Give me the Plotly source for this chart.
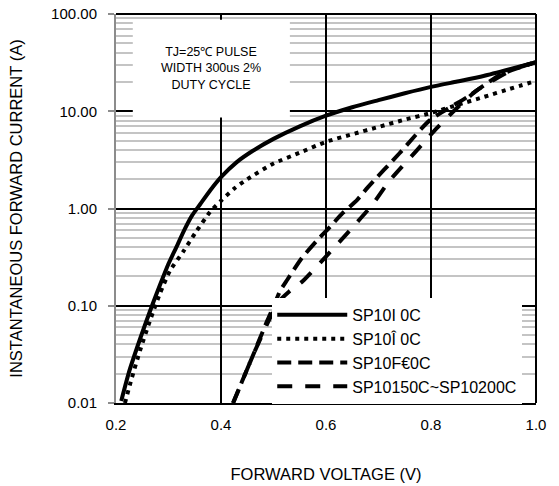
import plotly.graph_objects as go

# ---- data ----
v_a = [0.21, 0.225, 0.24, 0.255, 0.27, 0.285, 0.30, 0.315, 0.33, 0.345, 0.36, 0.38, 0.40,
       0.43, 0.46, 0.50, 0.55, 0.60, 0.65, 0.70, 0.75, 0.80, 0.85, 0.90, 0.95, 1.00]
i_a = [0.0105, 0.021, 0.037, 0.063, 0.105, 0.17, 0.27, 0.40, 0.60, 0.85, 1.1, 1.55, 2.1,
       3.0, 3.9, 5.2, 7.0, 9.0, 11.0, 13.0, 15.3, 17.8, 20.2, 23.0, 27.0, 32.0]

v_b = [0.217, 0.23, 0.246, 0.265, 0.284, 0.303, 0.328, 0.351, 0.379, 0.40, 0.425, 0.45,
       0.50, 0.55, 0.60, 0.65, 0.70, 0.75, 0.80, 0.85, 0.90, 0.95, 1.00]
i_b = [0.01, 0.018, 0.035, 0.071, 0.135, 0.23, 0.36, 0.56, 0.92, 1.2, 1.6, 2.0,
       2.9, 3.75, 4.85, 5.8, 6.9, 8.2, 9.6, 11.6, 14.0, 17.0, 20.5]

v_c = [0.423, 0.44, 0.461, 0.488, 0.499, 0.512, 0.526, 0.554, 0.583, 0.608, 0.632, 0.659,
       0.68, 0.74, 0.798, 0.869, 0.931, 1.0]
i_c = [0.01, 0.0166, 0.031, 0.07, 0.095, 0.14, 0.184, 0.31, 0.47, 0.65, 0.9, 1.22,
       1.66, 3.7, 8.1, 14.0, 23.6, 32.0]

v_d = [0.423, 0.44, 0.461, 0.488, 0.51, 0.53, 0.556, 0.602, 0.646, 0.688, 0.722, 0.77,
       0.811, 0.851, 0.888, 0.954, 1.0]
i_d = [0.01, 0.0166, 0.031, 0.065, 0.11, 0.14, 0.18, 0.33, 0.6, 1.09, 1.96, 3.8,
       6.7, 11.0, 16.5, 26.5, 32.0]

series_names = ["SP10I 0C", "SP10Î 0C", "SP10F€0C", "SP10150C~SP10200C"]

x_ticks = [0.2, 0.4, 0.6, 0.8, 1.0]
x_labels = ["0.2", "0.4", "0.6", "0.8", "1.0"]
y_ticks = [0.01, 0.1, 1, 10, 100]
y_labels = ["0.01", "0.10", "1.00", "10.00", "100.00"]
y_minor = [d * m for d in [0.01, 0.1, 1, 10] for m in range(2, 10)]

note_text = "TJ=25℃ PULSE<br>WIDTH 300us 2%<br>DUTY CYCLE"

FONT = "Liberation Sans, Arial, sans-serif"

fig = go.Figure()
styles = [
    dict(width=4, dash="solid"),
    dict(width=4, dash="4px,5px"),
    dict(width=4, dash="14px,7px"),
    dict(width=4, dash="15px,13px"),
]
for (vx, iy), name, st in zip([(v_a, i_a), (v_b, i_b), (v_c, i_c), (v_d, i_d)], series_names, styles):
    fig.add_trace(go.Scatter(x=vx, y=iy, mode="lines", name=name,
                             line=dict(color="black", width=st["width"], dash=st["dash"],
                                       shape="spline", smoothing=0.6)))

fig.update_layout(
    width=559, height=486,
    margin=dict(l=116, r=23, t=14, b=83),
    paper_bgcolor="white", plot_bgcolor="white",
    font=dict(family=FONT, color="black"),
    showlegend=True,
    legend=dict(x=0.372, y=0.27, xanchor="left", yanchor="top",
                bgcolor="white", borderwidth=0, itemwidth=70,
                font=dict(size=16, family=FONT, color="black"),
                tracegroupgap=0, itemclick=False),
    xaxis=dict(range=[0.2, 1.0], tickvals=x_ticks, ticktext=x_labels,
               showgrid=True, gridcolor="black", gridwidth=1.5,
               showline=True, linecolor="black", linewidth=2,
               ticks="", ticklabelstandoff=7, zeroline=False, automargin=False,
               tickfont=dict(size=15, family=FONT),
               title=dict(text="FORWARD VOLTAGE (V)", font=dict(size=16.5, family=FONT), standoff=36)),
    yaxis=dict(type="log", range=[-2, 2], tickvals=y_ticks, ticktext=y_labels,
               showgrid=True, gridcolor="black", gridwidth=1.5,
               showline=True, linecolor="#8c8c8c", linewidth=2,
               ticks="outside", ticklen=6, tickcolor="#8c8c8c", tickwidth=1.5,
               ticklabelstandoff=8, zeroline=False, automargin=False,
               tickfont=dict(size=15, family=FONT),
               minor=dict(tickvals=y_minor, showgrid=True, gridcolor="#c4c4c4", gridwidth=2, ticks=""),
               title=dict(text="INSTANTANEOUS FORWARD CURRENT (A)", font=dict(size=16.5, family=FONT), standoff=24)),
    shapes=[
        # white note box hiding the grid
        dict(type="rect", xref="paper", yref="paper", x0=0.040, x1=0.414, y0=0.734, y1=0.985,
             fillcolor="white", line=dict(width=0), layer="above"),
        dict(type="line", xref="paper", yref="paper", x0=0, x1=1, y0=1, y1=1,
             line=dict(color="black", width=2), layer="above"),
        dict(type="line", xref="paper", yref="paper", x0=1, x1=1, y0=0, y1=1,
             line=dict(color="black", width=2), layer="above"),
    ],
    annotations=[
        dict(text=note_text, xref="paper", yref="paper", x=0.226, y=0.861,
             xanchor="center", yanchor="middle", showarrow=False, align="center",
             font=dict(size=12.5, family=FONT, color="black")),
    ],
)

fig.write_html("out.html")
